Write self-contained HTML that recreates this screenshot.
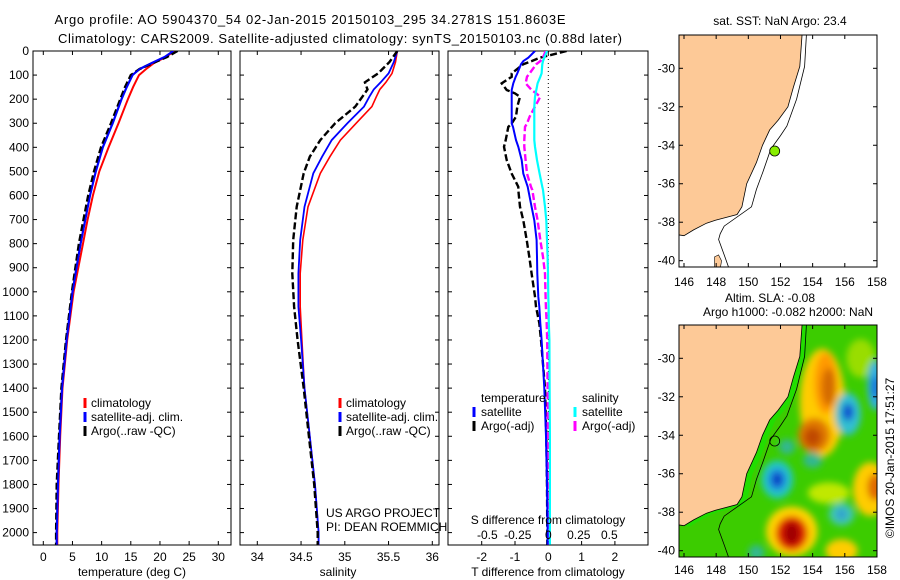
<!DOCTYPE html>
<html><head><meta charset="utf-8"><style>
html,body{margin:0;padding:0;background:#fff;}
svg{display:block;font-family:"Liberation Sans",sans-serif;}
text{font-size:12px;fill:#000;}
</style></head><body>
<svg id="fig" width="900" height="580" viewBox="0 0 900 580" xmlns="http://www.w3.org/2000/svg">
<rect width="900" height="580" fill="#fff"/>
<text x="310" y="24" text-anchor="middle" style="font-size:13px" textLength="511">Argo profile: AO 5904370_54 02-Jan-2015 20150103_295 34.2781S 151.8603E</text>
<text x="340" y="43" text-anchor="middle" style="font-size:13px" textLength="564">Climatology: CARS2009. Satellite-adjusted climatology: synTS_20150103.nc (0.88d later)</text>
<defs>
<clipPath id="c1"><rect x="33" y="51" width="198" height="494"/></clipPath>
<clipPath id="c2"><rect x="240" y="51" width="199" height="494"/></clipPath>
<clipPath id="c3"><rect x="448" y="51" width="200" height="494"/></clipPath>
<clipPath id="cm1"><rect x="679" y="35" width="198" height="232"/></clipPath>
<clipPath id="cm2"><rect x="679" y="325" width="198" height="232"/></clipPath>
<filter id="blur" x="-20%" y="-20%" width="140%" height="140%"><feGaussianBlur stdDeviation="3.5"/></filter>
</defs>
<g id="layer"></g>
</svg>
<script>
// ---------- data ----------
const depthsT = [0,25,50,75,100,150,200,300,400,500,600,700,800,900,1000,1200,1400,1600,1800,2000,2050];
const tempClim = [22.5,21,19,17.6,16.4,15.4,14.5,12.9,11.2,9.6,8.5,7.6,6.8,6.0,5.2,4.1,3.3,2.9,2.6,2.4,2.4];
const tempSat  = [22.3,20.8,18.6,16.5,15.3,14.3,13.4,11.9,10.2,9.0,8.0,7.2,6.4,5.7,5.0,4.0,3.2,2.8,2.5,2.3,2.3];
const tempArgo = [23.0,21.2,18.8,16.5,15.0,14.0,13.2,11.6,9.9,8.7,7.7,6.9,6.1,5.5,4.9,3.9,3.1,2.7,2.3,2.2,2.2];
const depthsS = [0,46,93,130,160,190,231,300,370,439,508,647,785,924,1062,1200,1400,1600,1800,2000,2050];
const salClim = [35.6,35.58,35.54,35.47,35.40,35.36,35.31,35.13,34.95,34.83,34.72,34.58,34.52,34.49,34.49,34.51,34.54,34.6,34.66,34.7,34.7];
const salSat  = [35.6,35.56,35.5,35.41,35.33,35.28,35.22,35.03,34.85,34.74,34.64,34.54,34.49,34.47,34.47,34.5,34.54,34.6,34.66,34.7,34.7];
const salArgo = [35.6,35.51,35.38,35.23,35.26,35.2,35.12,34.89,34.72,34.6,34.53,34.45,34.41,34.4,34.42,34.46,34.53,34.59,34.65,34.69,34.69];
const depthsD = [0,28,42,55,93,107,134,162,176,190,231,273,301,315,370,398,453,509,564,577,647,703,785,855,924,1020,1062,1130,1200,1400,1600,1800,2000,2050];
const tdiffSat  = [-0.4,-0.6,-0.75,-0.82,-0.93,-0.98,-1.05,-1.1,-1.1,-1.1,-1.1,-1.1,-1.1,-1.06,-0.97,-0.9,-0.8,-0.75,-0.62,-0.6,-0.5,-0.42,-0.35,-0.34,-0.33,-0.3,-0.27,-0.24,-0.2,-0.12,-0.07,-0.04,-0.02,-0.02];
const tdiffArgo = [0.55,-0.25,-0.5,-0.75,-1.1,-1.1,-1.4,-1.25,-1.0,-0.85,-0.93,-0.97,-1.1,-1.2,-1.28,-1.33,-1.25,-1.1,-0.9,-0.9,-0.85,-0.75,-0.65,-0.57,-0.5,-0.4,-0.37,-0.27,-0.22,-0.1,-0.06,-0.04,-0.03,-0.03];
const sdiffSat  = [-0.01,-0.03,-0.04,-0.045,-0.05,-0.06,-0.08,-0.09,-0.095,-0.1,-0.105,-0.105,-0.105,-0.105,-0.105,-0.1,-0.085,-0.065,-0.045,-0.04,-0.025,-0.015,-0.01,-0.005,-0.002,0,0.002,0.004,0.008,0.01,0.012,0.012,0.012,0.012];
const sdiffArgo = [-0.02,-0.04,-0.06,-0.09,-0.14,-0.16,-0.17,-0.125,-0.09,-0.06,-0.1,-0.14,-0.16,-0.175,-0.18,-0.18,-0.17,-0.16,-0.13,-0.12,-0.1,-0.08,-0.06,-0.04,-0.025,-0.02,-0.018,-0.012,-0.008,-0.005,-0.003,-0.002,0,0];
const depthTicks = [0,100,200,300,400,500,600,700,800,900,1000,1100,1200,1300,1400,1500,1600,1700,1800,1900,2000];
const tempTicks = [0,5,10,15,20,25,30];
const salTicks = [34,34.5,35,35.5,36];
const salTickLabels = ["34","34.5","35","35.5","36"];
const tdTicks = [-2,-1,0,1,2];
const sdTicks = [-0.5,-0.25,0,0.25,0.5];
const sdTickLabels = ["-0.5","-0.25","0","0.25","0.5"];
const lonTicks = [146,148,150,152,154,156,158];
const latTicks = [-30,-32,-34,-36,-38,-40];
const argoLon = 151.64, argoLat = -34.3;
const coastLon = [145.4,153.4,153.34,153.2,152.8,152.46,151.85,151.33,150.88,150.5,149.9,149.6,149.3,147.95,147.4,146.6,146.0,145.6,145.4];
const coastLat = [-28.0,-28.0,-28.3,-29.9,-31.0,-32.0,-32.7,-33.2,-34.0,-34.9,-36.0,-37.2,-37.6,-37.9,-38.05,-38.4,-38.7,-38.65,-38.6];
const isoLon = [153.63,153.5,153.0,152.4,152.0,151.4,150.9,150.5,150.2,148.5,148.25,148.15,148.5,148.8];
const isoLat = [-28.0,-29.9,-31.6,-33.0,-33.5,-34.2,-35.4,-36.3,-37.2,-38.2,-38.6,-38.9,-39.7,-40.4];
const slaLon = [157.0,154.6,154.8,155.0,154.1,154.0,155.0,157.6,157.9,152.7,152.7,152.7,155.8,151.8,151.8,151.8,156.2,156.2,157.9,157.9,155.8,155.8,154.0,152.4,150.5];
const slaLat = [-30.0,-32.3,-31.3,-31.5,-34.0,-34.1,-37.0,-36.8,-36.7,-39.0,-39.1,-39.1,-40.0,-36.3,-36.3,-36.3,-32.9,-32.8,-31.4,-31.5,-38.1,-38.1,-35.3,-34.6,-40.1];
const slaRx  = [0.9,1.4,0.7,0.45,1.0,0.55,1.3,1.1,0.5,1.6,1.0,0.5,1.0,1.0,0.6,0.3,0.8,0.35,0.5,0.25,0.8,0.35,0.6,0.5,0.5];
const slaRy  = [1.0,2.8,1.6,1.0,0.9,0.5,0.55,1.4,0.7,1.3,0.9,0.6,0.6,1.0,0.6,0.35,1.1,0.45,1.3,0.6,0.6,0.3,0.4,0.4,0.4];
const slaCol = ["#99dd00","#ffcc00","#ff9900","#d46a00","#e07800","#c04800","#c0e800","#ffcc00","#e06a00","#ffd400","#e02000","#a00000","#ffcc00","#22c8c0","#2090e0","#0030c0","#30c0d0","#1050d0","#30b0e0","#1070d8","#40c8b0","#30a0d0","#30b890","#30b890","#30b890"];

// ---------- helpers ----------
const NS = "http://www.w3.org/2000/svg";
const layer = document.getElementById('layer');
function mk(tag, attrs, parent){ const e=document.createElementNS(NS,tag); for(const k in attrs) e.setAttribute(k,attrs[k]); (parent||layer).appendChild(e); return e; }
const yD = d => 51 + d*0.2408;
const xT = t => 43.3 + t*5.833;
const xS = s => 257.3 + (s-34)*87.5;
const xTD = v => 548.3 + v*33.3;
const xSD = v => 548.3 + v*133.3;
const xLon = lon => 684 + (lon-146)*16.08;
const yLat1 = lat => 68.3 + (-30-lat)*19.24;
const yLat2 = lat => 358.3 + (-30-lat)*19.24;

function frame(x0,x1,name){
  const r = mk('rect',{x:x0,y:51,width:x1-x0,height:494,fill:'none',stroke:'#000','stroke-width':1});
  
  
  depthTicks.forEach(d=>{ mk('line',{x1:x0,x2:x0+4,y1:yD(d),y2:yD(d),stroke:'#000'}); mk('line',{x1:x1,x2:x1-4,y1:yD(d),y2:yD(d),stroke:'#000'}); });
}
function profile(xs, ds, fx, color, dash, w, clip, name){
  const pts = xs.map((v,i)=>fx(v).toFixed(1)+','+yD(ds[i]).toFixed(1)).join(' ');
  const p = mk('polyline',{points:pts,fill:'none',stroke:color,'stroke-width':w,'clip-path':'url(#'+clip+')'});
  if(dash) p.setAttribute('stroke-dasharray',dash);
  
  
}
function txt(x,y,s,anchor,name,size){
  const t = mk('text',{x:x,y:y,'text-anchor':anchor||'start'});
  if(size) t.setAttribute('style','font-size:'+size+'px');
  t.textContent = s;
  
  
  return t;
}
function xtick(x, top, bot){ mk('line',{x1:x,x2:x,y1:bot,y2:bot-4,stroke:'#000'}); mk('line',{x1:x,x2:x,y1:top,y2:top+4,stroke:'#000'}); }
function legMark(x,y,color,name){
  const l = mk('line',{x1:x,x2:x,y1:y-10,y2:y,stroke:color,'stroke-width':3});
  
  
}

// ---------- panel 1: temperature ----------
frame(33,231,'temperature-axes');
depthTicks.forEach(d=>txt(29,yD(d)+4,String(d),'end','depth-tick-label'));
tempTicks.forEach(t=>{ xtick(xT(t),51,545); txt(xT(t),561,String(t),'middle','temp-tick-label'); });
txt(132,576,'temperature (deg C)','middle','temperature-axis-title');
profile(tempClim,depthsT,xT,'#ff0000',null,2,'c1','temp-climatology-line');
profile(tempSat,depthsT,xT,'#0000ff',null,2.2,'c1','temp-satellite-line');
profile(tempArgo,depthsT,xT,'#000',"7,3",2.4,'c1','temp-argo-line');
profile(tempSat,depthsT,xT,'#0000ff',null,1.6,'c1','temp-satellite-line-top');
legMark(85,408,'#ff0000','legend-climatology-mark'); txt(91,407,'climatology','start','legend-climatology');
legMark(85,422,'#0000ff','legend-satellite-mark'); txt(91,421,'satellite-adj. clim.','start','legend-satellite');
legMark(85,436,'#000','legend-argo-mark'); txt(91,435,'Argo(..raw -QC)','start','legend-argo');

// ---------- panel 2: salinity ----------
frame(240,439,'salinity-axes');
salTicks.forEach((s,i)=>{ xtick(xS(s),51,545); txt(xS(s),561,salTickLabels[i],'middle','sal-tick-label'); });
txt(338,576,'salinity','middle','salinity-axis-title');
profile(salClim,depthsS,xS,'#ff0000',null,1.6,'c2','sal-climatology-line');
profile(salSat,depthsS,xS,'#0000ff',null,1.8,'c2','sal-satellite-line');
profile(salArgo,depthsS,xS,'#000',"7,3",2.4,'c2','sal-argo-line');
legMark(340,408,'#ff0000','legend2-climatology-mark'); txt(346,407,'climatology','start','legend2-climatology');
legMark(340,422,'#0000ff','legend2-satellite-mark'); txt(346,421,'satellite-adj. clim.','start','legend2-satellite');
legMark(340,436,'#000','legend2-argo-mark'); txt(346,435,'Argo(..raw -QC)','start','legend2-argo');
txt(326,517,'US ARGO PROJECT','start','project-label');
txt(326,531,'PI: DEAN ROEMMICH','start','pi-label');

// ---------- panel 3: differences ----------
frame(448,648,'difference-axes');
tdTicks.forEach(t=>{ xtick(xTD(t),51,545); txt(xTD(t),561,String(t),'middle','tdiff-tick-label'); });
txt(548,576,'T difference from climatology','middle','tdiff-axis-title');
mk('line',{x1:xTD(0),x2:xTD(0),y1:51,y2:545,stroke:'#000','stroke-dasharray':'1,3'});
profile(tdiffArgo,depthsD,xTD,'#000',"7,3",2.4,'c3','tdiff-argo-line');
profile(sdiffArgo,depthsD,xSD,'#ff00ff',"7,3",2.4,'c3','sdiff-argo-line');
profile(sdiffSat,depthsD,xSD,'#00ffff',null,2.2,'c3','sdiff-satellite-line');
profile(tdiffSat,depthsD,xTD,'#0000ff',null,2,'c3','tdiff-satellite-line');
txt(481,402,'temperature','start','legend3-temperature-heading');
legMark(474,417,'#0000ff','legend3-tsat-mark'); txt(481,416,'satellite','start','legend3-tsat');
legMark(474,431,'#000','legend3-targo-mark'); txt(481,430,'Argo(-adj)','start','legend3-targo');
txt(582,402,'salinity','start','legend3-salinity-heading');
legMark(575,417,'#00ffff','legend3-ssat-mark'); txt(582,416,'satellite','start','legend3-ssat');
legMark(575,431,'#ff00ff','legend3-sargo-mark'); txt(582,430,'Argo(-adj)','start','legend3-sargo');
txt(548,524,'S difference from climatology','middle','sdiff-axis-title');
sdTicks.forEach((s,i)=>txt(548.3+s*122,539,sdTickLabels[i],'middle','sdiff-tick-label'));

// ---------- map 1 ----------
{
  const g = mk('g',{'clip-path':'url(#cm1)'});
  
  
  mk('rect',{x:679,y:35,width:198,height:232,fill:'#fff'},g);
  const land = mk('polygon',{points:coastLon.map((v,i)=>xLon(v).toFixed(1)+','+yLat1(coastLat[i]).toFixed(1)).join(' '),fill:'#fdc997',stroke:'#000','stroke-width':0.8},g);
  
  
  mk('polyline',{points:isoLon.map((v,i)=>xLon(v).toFixed(1)+','+yLat1(isoLat[i]).toFixed(1)).join(' '),fill:'none',stroke:'#000','stroke-width':0.8},g);
  mk('path',{d:`M${xLon(147.9)},${yLat1(-39.8)} l4,-2 l3,6 l-1,6 l-6,0 z`,fill:'#fdc997',stroke:'#000','stroke-width':0.6},g);
  const c = mk('circle',{cx:xLon(argoLon),cy:yLat1(argoLat),r:5,fill:'#88ee00',stroke:'#000','stroke-width':0.8},g);
  
  
  mk('rect',{x:679,y:35,width:198,height:232,fill:'none',stroke:'#000'});
  lonTicks.forEach(l=>{ xtick(xLon(l),35,267); txt(xLon(l),286,String(l),'middle','map1-lon-label'); });
  latTicks.forEach(l=>{ mk('line',{x1:679,x2:683,y1:yLat1(l),y2:yLat1(l),stroke:'#000'}); mk('line',{x1:877,x2:873,y1:yLat1(l),y2:yLat1(l),stroke:'#000'}); txt(675,yLat1(l)+4,String(l),'end','map1-lat-label'); });
  txt(780,25,'sat. SST: NaN Argo: 23.4','middle','map1-title');
}
// ---------- map 2 ----------
{
  const g = mk('g',{'clip-path':'url(#cm2)'});
  
  
  mk('rect',{x:679,y:325,width:198,height:232,fill:'#3ccc00'},g);
  const fg = mk('g',{filter:'url(#blur)'},g);
  slaLon.forEach((lo,i)=>{
    const e = mk('ellipse',{cx:xLon(lo),cy:yLat2(slaLat[i]),rx:slaRx[i]*16.08,ry:slaRy[i]*19.24,fill:slaCol[i]},fg);
    
    
  });
  mk('polygon',{points:coastLon.map((v,i)=>xLon(v+0.35).toFixed(1)+','+yLat2(coastLat[i]-0.05).toFixed(1)).join(' '),fill:'#22dd00'},g);
  const land = mk('polygon',{points:coastLon.map((v,i)=>xLon(v).toFixed(1)+','+yLat2(coastLat[i]).toFixed(1)).join(' '),fill:'#fdc997',stroke:'#000','stroke-width':0.8},g);
  
  
  mk('polyline',{points:isoLon.map((v,i)=>xLon(v).toFixed(1)+','+yLat2(isoLat[i]).toFixed(1)).join(' '),fill:'none',stroke:'#000','stroke-width':0.8},g);
  const c = mk('circle',{cx:xLon(argoLon),cy:yLat2(argoLat),r:5,fill:'none',stroke:'#000','stroke-width':0.8},g);
  
  
  mk('rect',{x:679,y:325,width:198,height:232,fill:'none',stroke:'#000'});
  lonTicks.forEach(l=>{ xtick(xLon(l),325,557); txt(xLon(l),574,String(l),'middle','map2-lon-label'); });
  latTicks.forEach(l=>{ mk('line',{x1:679,x2:683,y1:yLat2(l),y2:yLat2(l),stroke:'#000'}); mk('line',{x1:877,x2:873,y1:yLat2(l),y2:yLat2(l),stroke:'#000'}); txt(675,yLat2(l)+4,String(l),'end','map2-lat-label'); });
  txt(770,302,'Altim. SLA: -0.08','middle','map2-title-line1');
  txt(788,316,'Argo h1000: -0.082 h2000: NaN','middle','map2-title-line2');
}
const stamp = txt(0,0,'©IMOS 20-Jan-2015 17:51:27','middle','timestamp-label');
stamp.setAttribute('transform','translate(894,458) rotate(-90)');
</script>
</body></html>
